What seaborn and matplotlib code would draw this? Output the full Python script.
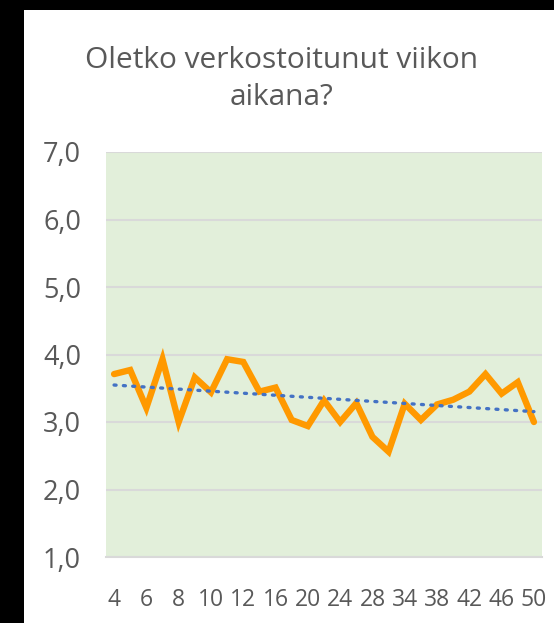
import numpy as np
import pandas as pd
import matplotlib
matplotlib.use("Agg")
import matplotlib.pyplot as plt
import seaborn as sns
from matplotlib.patches import Rectangle

# weeks (every other one is labelled on the axis)
weeks = [4, 5, 6, 7, 8, 9, 10, 11, 12, 14, 16, 18, 20, 22, 24, 26, 28, 30,
         34, 36, 38, 40, 42, 44, 46, 48, 50]
answers = [3.71, 3.77, 3.21, 3.93, 3.00, 3.66, 3.44, 3.93, 3.89, 3.45, 3.51,
           3.03, 2.94, 3.32, 3.00, 3.28, 2.78, 2.56, 3.27, 3.03, 3.26, 3.33,
           3.45, 3.71, 3.42, 3.59, 3.00]
y_ticks = [1, 2, 3, 4, 5, 6, 7]
title = "Oletko verkostoitunut viikon\naikana?"

sns.set_style("white")
plt.rcParams['font.family'] = ['Open Sans', 'DejaVu Sans']

df = pd.DataFrame({"pos": np.arange(len(weeks)), "week": weeks, "value": answers})

fig = plt.figure(figsize=(5.54, 6.23), dpi=100)
fig.patch.set_facecolor("white")
# black frame strips on the left and top
fig.patches.append(Rectangle((0, 0), 24 / 554, 1, transform=fig.transFigure,
                             facecolor="black", edgecolor="none", zorder=0))
fig.patches.append(Rectangle((0, 1 - 10 / 623), 1, 10 / 623, transform=fig.transFigure,
                             facecolor="black", edgecolor="none", zorder=0))

ax = fig.add_axes([106 / 554, 1 - 557 / 623, 436 / 554, 405 / 623])
ax.set_facecolor("#E2EFDA")

sns.lineplot(data=df, x="pos", y="value", ax=ax, color="#FF9900", linewidth=4.6,
             solid_joinstyle="miter", zorder=3)

# linear trend line
k, b = np.polyfit(df["pos"], df["value"], 1)
ax.plot(df["pos"], k * df["pos"] + b, linestyle=(0, (0.6, 2.2)), color="#4472C4",
        linewidth=2.4, dash_capstyle="round", zorder=4)

ax.set_ylim(1, 7)
ax.set_xlim(-0.5, len(weeks) - 0.5)
ax.set_yticks(y_ticks)
ax.set_yticklabels([f"{v:.1f}".replace(".", ",") for v in y_ticks])
ax.set_xticks(df["pos"][::2])
ax.set_xticklabels([str(w) for w in weeks[::2]])
ax.tick_params(axis="y", labelsize=19.5, labelcolor="#595959", length=0, pad=18)
ax.tick_params(axis="x", labelsize=16.5, labelcolor="#595959", length=0, pad=22)
ax.grid(axis="y", color="#D9D9D9", linewidth=1.5)
ax.grid(axis="x", visible=False)
ax.set_xlabel("")
ax.set_ylabel("")
for s in ["top", "left", "right"]:
    ax.spines[s].set_visible(False)
ax.spines["bottom"].set_color("#D9D9D9")
ax.spines["bottom"].set_linewidth(1.5)

fig.text(282 / 554, 1 - 79 / 623, title, ha="center", va="center", fontsize=21.5,
         color="#595959", linespacing=1.4)

fig.savefig("out.png", dpi=100)
